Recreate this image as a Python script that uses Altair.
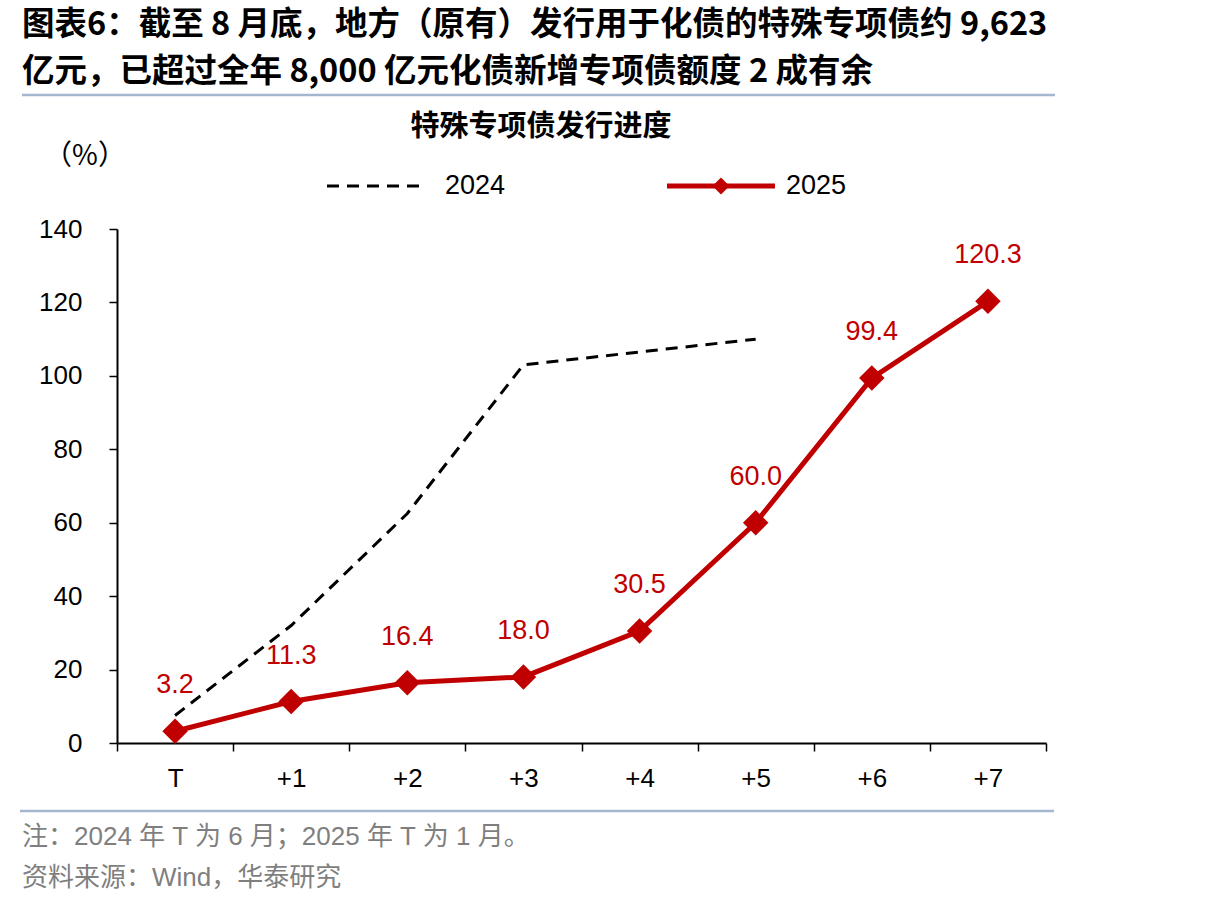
import altair as alt
import pandas as pd

cats = ["T", "+1", "+2", "+3", "+4", "+5", "+6", "+7"]
v2024 = [7.5, 32.0, 62.5, 103.0, 106.5, 110.0, None, None]
v2025 = [3.2, 11.3, 16.4, 18.0, 30.5, 60.0, 99.4, 120.3]
labels2025 = ["3.2", "11.3", "16.4", "18.0", "30.5", "60.0", "99.4", "120.3"]

title_lines = ["图表6：截至 8 月底，地方（原有）发行用于化债的特殊专项债约 9,623",
               "亿元，已超过全年 8,000 亿元化债新增专项债额度 2 成有余"]
subtitle = "特殊专项债发行进度"
unit = "（%）"
note_lines = ["注：2024 年 T 为 6 月；2025 年 T 为 1 月。", "资料来源：Wind，华泰研究"]
legend_names = ["2024", "2025"]

RED = "#C00000"
W, H = 929, 514
LAT = "Liberation Sans, Noto Sans CJK SC"
CJK = "Noto Sans CJK SC"

df24 = pd.DataFrame({"cat": cats, "v": v2024}).dropna()
df25 = pd.DataFrame({"cat": cats, "v": v2025, "lab": labels2025})

xenc = alt.X("cat:N", sort=cats,
             scale=alt.Scale(type="band", paddingInner=0, paddingOuter=0),
             axis=alt.Axis(title=None, labelAngle=0, tickBand="extent",
                           labelFontSize=26, labelFont="Liberation Sans", labelColor="black",
                           labelPadding=14, tickSize=8, tickColor="black", domainColor="black",
                           domainWidth=2, tickWidth=1.5))
yenc = alt.Y("v:Q", scale=alt.Scale(domain=[0, 140], nice=False),
             axis=alt.Axis(title=None, values=[0, 20, 40, 60, 80, 100, 120, 140], grid=False,
                           labelFontSize=26, labelFont="Liberation Sans", labelColor="black",
                           labelPadding=27, tickSize=8, tickColor="black", domainColor="black",
                           domainWidth=2, tickWidth=1.5))

line24 = alt.Chart(df24).mark_line(color="black", strokeWidth=3, strokeDash=[12, 8]).encode(x=xenc, y=yenc)
line25 = alt.Chart(df25).mark_line(color=RED, strokeWidth=5).encode(x=xenc, y=yenc)
pts25 = alt.Chart(df25).mark_point(shape="diamond", filled=True, size=650, color=RED, opacity=1).encode(x=xenc, y=yenc)
lab25 = alt.Chart(df25).mark_text(color=RED, fontSize=27, font="Liberation Sans", baseline="middle",
                                  align="center", dy=-46).encode(x=xenc, y=yenc, text="lab:N")

one = pd.DataFrame({"a": [0]})


def txt(s, x, y, size, color="black", font=CJK, weight="normal", align="left"):
    return alt.Chart(one).mark_text(text=s, fontSize=size, color=color, font=font, fontWeight=weight,
                                    align=align, baseline="middle").encode(x=alt.value(x), y=alt.value(y))


def hline(x1, x2, y, color, width, dash=None):
    kw = dict(color=color, strokeWidth=width)
    if dash:
        kw["strokeDash"] = dash
    return alt.Chart(one).mark_rule(**kw).encode(x=alt.value(x1), x2=alt.value(x2), y=alt.value(y))


deco = [
    txt(title_lines[0], -95, -204, 32.5, weight="bold"),
    txt(title_lines[1], -95, -157, 32.5, weight="bold"),
    hline(-95, 938, -134, "#A5B7CE", 2.5),
    txt(subtitle, 424, -102, 29, weight="bold", align="center"),
    txt(unit, -32, -72, 28, align="center"),
    hline(210, 308, -43, "black", 3, [12, 8]),
    txt(legend_names[0], 328, -43, 27, font=LAT),
    hline(550, 658, -43, RED, 5),
    alt.Chart(one).mark_point(shape="diamond", filled=True, size=290, color=RED, opacity=1)
        .encode(x=alt.value(604), y=alt.value(-43)),
    txt(legend_names[1], 669, -43, 27, font=LAT),
    hline(-97, 937, 582, "#A5B7CE", 2.5),
    txt(note_lines[0], -95, 608, 26, color="#7F7F7F", font=LAT),
    txt(note_lines[1], -95, 649, 26, color="#7F7F7F", font=LAT),
]

chart = alt.layer(line24, line25, pts25, lab25, *deco).properties(
    width=W, height=H,
    autosize=alt.AutoSizeParams(type="none"),
    padding={"left": 117, "top": 229, "right": 160, "bottom": 165},
    background="white",
).configure_view(stroke=None)

chart.save("out.html", embed_options={"renderer": "svg", "actions": False})
